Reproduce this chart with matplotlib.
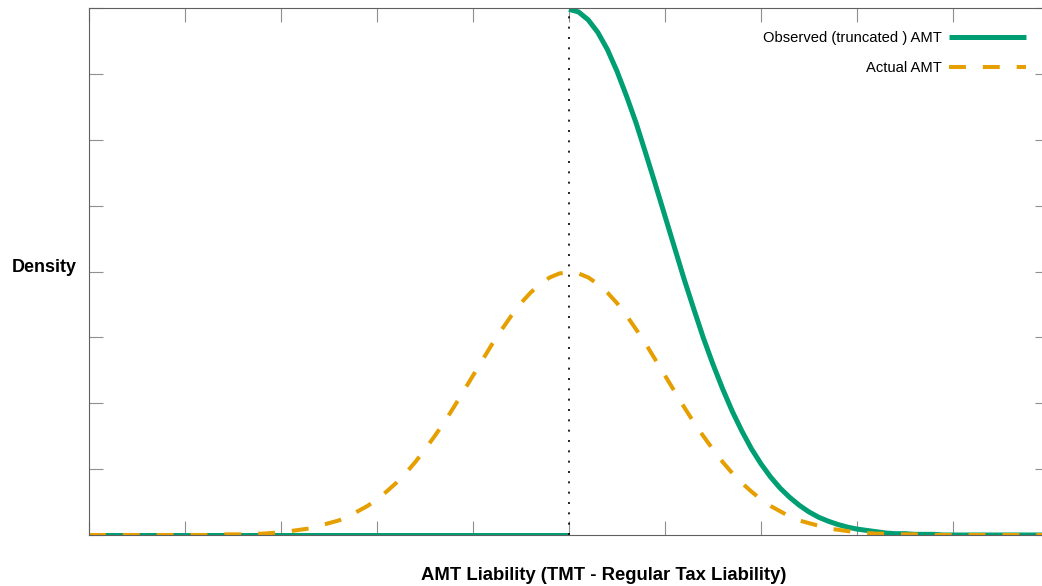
import matplotlib
matplotlib.use("Agg")
from matplotlib import pyplot as plt

plt.rcParams['font.family'] = ['Liberation Sans', 'DejaVu Sans']

# x grid for the right half of the distribution (0 .. 5, step 0.1)
x_right = [i / 10 for i in range(51)]
x_full = [-v for v in x_right[:0:-1]] + x_right

# actual AMT density, right half (mirrored for the left half)
actual_half = [0.399, 0.397, 0.391, 0.381, 0.368, 0.352, 0.333, 0.312, 0.290, 0.266,
               0.242, 0.218, 0.194, 0.171, 0.150, 0.130, 0.111, 0.094, 0.079, 0.066,
               0.054, 0.044, 0.036, 0.028, 0.022, 0.018, 0.014, 0.010, 0.008, 0.006,
               0.004, 0.003, 0.002, 0.002, 0.001, 0.001, 0.001, 0.000, 0.000, 0.000,
               0.000, 0.000, 0.000, 0.000, 0.000, 0.000, 0.000, 0.000, 0.000, 0.000,
               0.000]
actual = actual_half[:0:-1] + actual_half

# observed (truncated) AMT: zero below the cutoff, doubled above it
observed_left_x = [-5.0, 0.0]
observed_left = [0.0, 0.0]
observed_right = [0.798, 0.794, 0.782, 0.763, 0.737, 0.704, 0.666, 0.625, 0.579, 0.532,
                  0.484, 0.436, 0.388, 0.343, 0.299, 0.259, 0.222, 0.188, 0.158, 0.131,
                  0.108, 0.088, 0.071, 0.057, 0.045, 0.035, 0.027, 0.021, 0.016, 0.012,
                  0.009, 0.007, 0.005, 0.003, 0.002, 0.002, 0.001, 0.001, 0.001, 0.000,
                  0.000, 0.000, 0.000, 0.000, 0.000, 0.000, 0.000, 0.000, 0.000, 0.000,
                  0.000]

green = '#009e73'
orange = '#e69f00'

fig = plt.figure(figsize=(10.42, 5.86), dpi=100)
ax = fig.add_axes([89/1042, 1-535/586, (1049-89)/1042, 527/586])

ax.plot(observed_left_x, observed_left, color=green, lw=3.6, solid_capstyle='butt')
l1, = ax.plot(x_right, observed_right, color=green, lw=3.6, solid_capstyle='butt',
              label='Observed (truncated ) AMT')
l2, = ax.plot(x_full, actual, color=orange, lw=2.9, dashes=(4.2, 4.2),
              label='Actual AMT')
ax.axvline(0, color='black', lw=1.2, dashes=(1.2, 5))

ax.set_xlim(-5, 5)
ax.set_ylim(0, 0.8)
ax.set_xticks(range(-5, 6))
ax.set_yticks([i/10 for i in range(9)])
ax.tick_params(direction='in', length=10, width=0.8, color='#909090',
               top=True, right=True, labelbottom=False, labelleft=False)
for s in ax.spines.values():
    s.set_color('#606060')
    s.set_linewidth(0.8)

ax.legend(handles=[l1, l2], loc='upper right', bbox_to_anchor=(0.9895, 0.982),
          frameon=False, markerfirst=False, handlelength=5.2, fontsize=10.6,
          labelspacing=1.1, handletextpad=0.5)

fig.text(44/1042, 1-268/586, 'Density', ha='center', va='center',
         fontsize=13, fontweight='bold')
fig.text(604/1042, 1-576/586, 'AMT Liability (TMT - Regular Tax Liability)',
         ha='center', va='center', fontsize=13.3, fontweight='bold')

fig.savefig('out.png', dpi=100)
